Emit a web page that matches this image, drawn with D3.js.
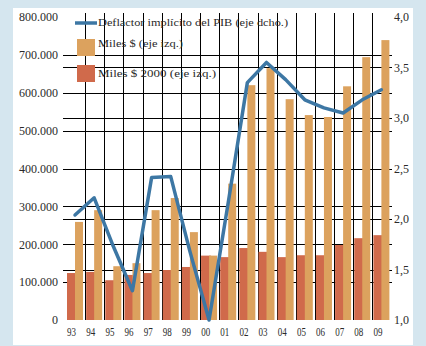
<!DOCTYPE html>
<html>
<head>
<meta charset="utf-8">
<script src="https://cdn.jsdelivr.net/npm/d3@7"></script>
<style>
  body { margin: 0; background: #d5e6ef; }
  svg { display: block; }
  text { font-family: "Liberation Serif", "Times New Roman", Times, serif; fill: #2a2a2a; }
</style>
</head>
<body>
<svg id="chart" width="426" height="346"></svg>
<script>
var years = ["93", "94", "95", "96", "97", "98", "99", "00", "01", "02", "03", "04", "05", "06", "07", "08", "09"]
// miles $ corrientes (eje izq.)
var nominal = [259000, 290000, 142000, 150000, 290000, 322000, 232000, 170000, 360000, 620000, 665000, 583000, 541000, 536000, 617000, 694000, 739000]
// miles $ de 2000 (eje izq.)
var real2000 = [124000, 127000, 105000, 119000, 124000, 132000, 140000, 170000, 166000, 190000, 180000, 166000, 171000, 171000, 198000, 216000, 224000]
// deflactor implícito del PIB (eje dcho.)
var deflator = [2.04, 2.21, 1.73, 1.29, 2.41, 2.42, 1.68, 1.0, 2.16, 3.35, 3.55, 3.38, 3.18, 3.10, 3.05, 3.18, 3.28]

var leftTicks = [0, 100000, 200000, 300000, 400000, 500000, 600000, 700000, 800000]
var rightTicks = [1.0, 1.5, 2.0, 2.5, 3.0, 3.5, 4.0]
var legendLabels = ["Deflactor implícito del PIB (eje dcho.)", "Miles $ (eje izq.)", "Miles $ 2000 (eje izq.)"]

var svg = d3.select("#chart")

svg.append("rect")
    .attr("x", 13).attr("y", 8)
    .attr("width", 400).attr("height", 337)
    .attr("fill", "white")

var left = 66, step = 19.15
var x = d3.scaleBand().domain(years).range([left, left + years.length * step]).padding(0)
var yLeft = d3.scaleLinear().domain([0, 800000]).range([320, 17])
var yRight = d3.scaleLinear().domain([1, 4]).range([320, 17])

var orange = "#dca25e"
var red = "#d06a4b"

// grid
svg.selectAll("line.v")
    .data(years.slice(1))
    .enter().append("line")
    .attr("class", "v")
    .attr("x1", d => Math.round(x(d)) + 0.5).attr("x2", d => Math.round(x(d)) + 0.5)
    .attr("y1", 13).attr("y2", 320)
    .attr("stroke", "black").attr("stroke-width", 1)

svg.selectAll("line.hl")
    .data(leftTicks.slice(1, -1))
    .enter().append("line")
    .attr("class", "hl")
    .attr("x1", 63).attr("x2", 392)
    .attr("y1", d => Math.round(yLeft(d)) + 0.5).attr("y2", d => Math.round(yLeft(d)) + 0.5)
    .attr("stroke", "black").attr("stroke-width", 1)

svg.selectAll("line.hr")
    .data(rightTicks.slice(1, -1))
    .enter().append("line")
    .attr("class", "hr")
    .attr("x1", 63).attr("x2", 392)
    .attr("y1", d => Math.round(yRight(d)) + 0.5).attr("y2", d => Math.round(yRight(d)) + 0.5)
    .attr("stroke", "black").attr("stroke-width", 1)

// bars
svg.selectAll("rect.real")
    .data(real2000)
    .enter().append("rect")
    .attr("class", "real")
    .attr("x", (d, i) => x(years[i]) + 1)
    .attr("width", 10)
    .attr("y", d => yLeft(d))
    .attr("height", d => yLeft(0) - yLeft(d))
    .attr("fill", red)

svg.selectAll("rect.nominal")
    .data(nominal)
    .enter().append("rect")
    .attr("class", "nominal")
    .attr("x", (d, i) => x(years[i]) + 9)
    .attr("width", 8)
    .attr("y", d => yLeft(d))
    .attr("height", d => yLeft(0) - yLeft(d))
    .attr("fill", orange)

// deflator line
var deflLine = d3.line()
    .x((d, i) => x(years[i]) + 9)
    .y(d => yRight(d))

svg.append("path")
    .datum(deflator)
    .attr("d", deflLine)
    .attr("fill", "none")
    .attr("stroke", "#3d77a4")
    .attr("stroke-width", 3.5)
    .attr("stroke-linejoin", "round")
    .attr("stroke-linecap", "round")

// axes with labels
var axL = svg.append("g")
    .attr("transform", "translate(63,0)")
    .call(d3.axisLeft(yLeft).tickValues(leftTicks).tickSize(0).tickPadding(5)
        .tickFormat(d => d === 0 ? "0" : d3.format(",")(d).replace(/,/g, ".")))
var axR = svg.append("g")
    .attr("transform", "translate(392,0)")
    .call(d3.axisRight(yRight).tickValues(rightTicks).tickSize(0).tickPadding(2)
        .tickFormat(d => d3.format(".1f")(d).replace(".", ",")))
var axB = svg.append("g")
    .attr("transform", "translate(-4,320)")
    .call(d3.axisBottom(x).tickSize(0).tickPadding(7))
;[axL, axR, axB].forEach(g => {
    g.attr("font-family", null).attr("font-size", null)
    g.select(".domain").remove()
    g.selectAll("text").attr("font-size", "12px").attr("fill", "#2a2a2a")
})
axB.selectAll("text")
    .attr("textLength", 9)
    .attr("lengthAdjust", "spacingAndGlyphs")

// legend
var legend = svg.append("g")
legend.append("line")
    .attr("x1", 75).attr("x2", 97)
    .attr("y1", 23).attr("y2", 23)
    .attr("stroke", "#3d77a4").attr("stroke-width", 3.5)
legend.append("rect")
    .attr("x", 77).attr("y", 39).attr("width", 18).attr("height", 17)
    .attr("fill", orange)
legend.append("rect")
    .attr("x", 77).attr("y", 65).attr("width", 18).attr("height", 17)
    .attr("fill", red)

var legendY = [26, 47, 77]
var legendW = [190, 85, 118]
legend.selectAll("text")
    .data(legendLabels)
    .enter().append("text")
    .attr("x", 98)
    .attr("y", (d, i) => legendY[i])
    .attr("font-size", "11px")
    .attr("textLength", (d, i) => legendW[i])
    .attr("lengthAdjust", "spacingAndGlyphs")
    .text(d => d)
</script>
</body>
</html>
